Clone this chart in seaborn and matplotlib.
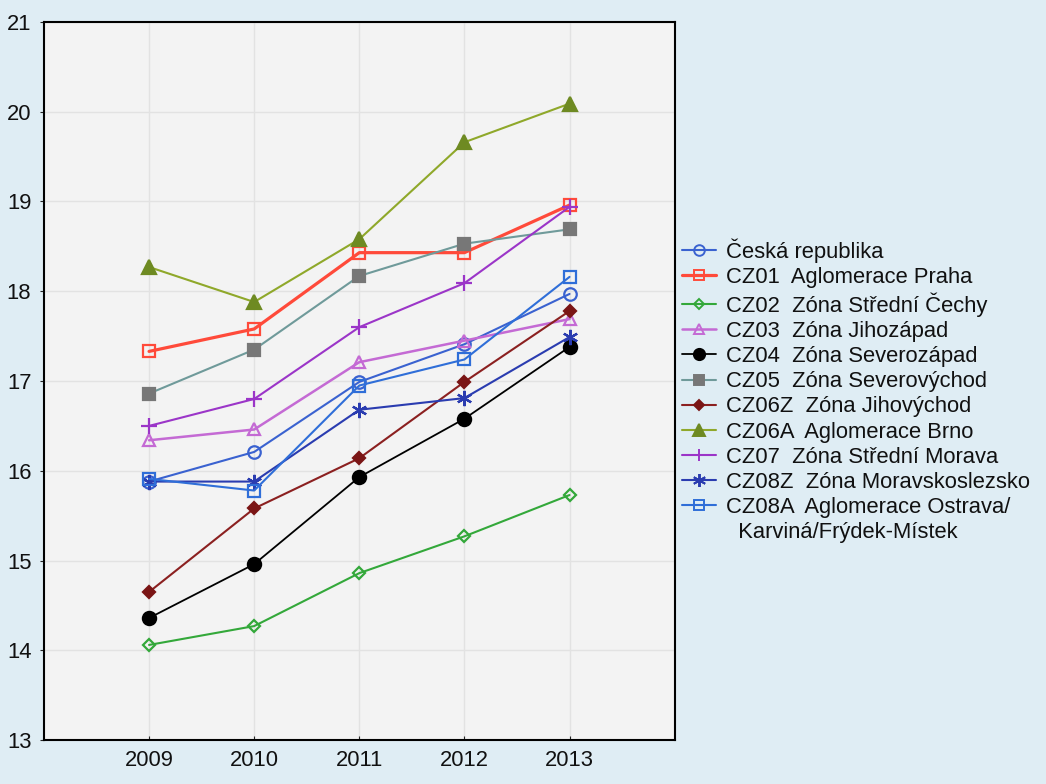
import numpy as np
import pandas as pd
import seaborn as sns
import matplotlib.pyplot as plt
from matplotlib.lines import Line2D

years = [2009, 2010, 2011, 2012, 2013]

cr = [15.88, 16.21, 16.99, 17.41, 17.97]
cz01 = [17.33, 17.58, 18.43, 18.43, 18.96]
cz02 = [14.06, 14.27, 14.86, 15.27, 15.73]
cz03 = [16.34, 16.46, 17.21, 17.45, 17.69]
cz04 = [14.36, 14.96, 15.93, 16.58, 17.38]
cz05 = [16.86, 17.35, 18.17, 18.53, 18.69]
cz06z = [14.65, 15.58, 16.14, 16.99, 17.78]
cz06a = [18.27, 17.88, 18.58, 19.66, 20.09]
cz07 = [16.50, 16.80, 17.60, 18.09, 18.94]
cz08z = [15.88, 15.88, 16.68, 16.81, 17.49]
cz08a = [15.91, 15.78, 16.95, 17.24, 18.16]

labels = ['Česká republika',
          'CZ01  Aglomerace Praha',
          'CZ02  Zóna Střední Čechy',
          'CZ03  Zóna Jihozápad',
          'CZ04  Zóna Severozápad',
          'CZ05  Zóna Severovýchod',
          'CZ06Z  Zóna Jihovýchod',
          'CZ06A  Aglomerace Brno',
          'CZ07  Zóna Střední Morava',
          'CZ08Z  Zóna Moravskoslezsko',
          'CZ08A  Aglomerace Ostrava/']
extra_label = '  Karviná/Frýdek-Místek'
series = [cr, cz01, cz02, cz03, cz04, cz05, cz06z, cz06a, cz07, cz08z, cz08a]

# line colour, marker colour, marker, filled, marker size, line width
styles = [
    ('#3a62d0', '#3a62d0', 'o', False, 9.0, 1.5),
    ('#ff4a3a', '#ff4a3a', 's', False, 9.0, 2.3),
    ('#33a83a', '#33a83a', 'D', False, 6.5, 1.5),
    ('#c46ad4', '#c46ad4', '^', False, 9.0, 1.8),
    ('#000000', '#000000', 'o', True, 9.5, 1.3),
    ('#6f9a9a', '#777777', 's', True, 9.0, 1.5),
    ('#8b2020', '#7a1515', 'D', True, 6.5, 1.5),
    ('#8fa82a', '#6e8a22', '^', True, 9.5, 1.5),
    ('#9b35c8', '#9b35c8', '+', False, 11.0, 1.5),
    ('#2a3cb0', '#2a3cb0', (6, 2, 0), False, 11.0, 1.5),
    ('#2f6ed8', '#2f6ed8', 's', False, 9.0, 1.5),
]

sns.set_style('white')
plt.rcParams['font.family'] = ['Liberation Sans', 'DejaVu Sans']

fig = plt.figure(figsize=(10.46, 7.84), dpi=100, facecolor='#dfedf4')
ax = fig.add_axes([0.042, 0.056, 0.603, 0.916])
ax.set_facecolor('#f3f3f3')

handles = []
for vals, lab, (lc, mc, mk, filled, ms, lw) in zip(series, labels, styles):
    df = pd.DataFrame({'year': years, 'value': vals})
    sns.lineplot(data=df, x='year', y='value', ax=ax, color=lc, linewidth=lw,
                 marker=mk, markersize=ms, markeredgecolor=mc,
                 markerfacecolor=mc if filled else 'none',
                 markeredgewidth=1.6, zorder=3, legend=False)
    handles.append(Line2D([], [], color=lc, linewidth=lw, marker=mk, markersize=ms * 0.85,
                          markeredgecolor=mc, markerfacecolor=mc if filled else 'none',
                          markeredgewidth=1.4))
handles.append(Line2D([], [], linestyle='none'))

ax.set_xlim(2008, 2014)
ax.set_ylim(13, 21)
ax.set_xticks(years)
ax.set_yticks(range(13, 22))
ax.set_xlabel('')
ax.set_ylabel('')
ax.grid(True, color='#e2e2e2', linewidth=1.0)
ax.set_axisbelow(True)
for s in ax.spines.values():
    s.set_color('black')
    s.set_linewidth(1.5)
ax.tick_params(axis='y', direction='out', length=3, labelsize=15.8, left=True,
               pad=6, labelcolor='#111111')
ax.tick_params(axis='x', direction='in', length=3, labelsize=15.8, bottom=True,
               pad=7, labelcolor='#111111')

leg = fig.legend(handles, labels + [extra_label], loc='upper left',
                 bbox_to_anchor=(0.648, 1 - 234 / 784), frameon=False,
                 fontsize=15.8, labelspacing=0.19, handlelength=1.55,
                 handletextpad=0.45, borderpad=0.2, borderaxespad=0)
for t in leg.get_texts():
    t.set_color('#111111')

fig.savefig('out.png', dpi=100, facecolor=fig.get_facecolor())
